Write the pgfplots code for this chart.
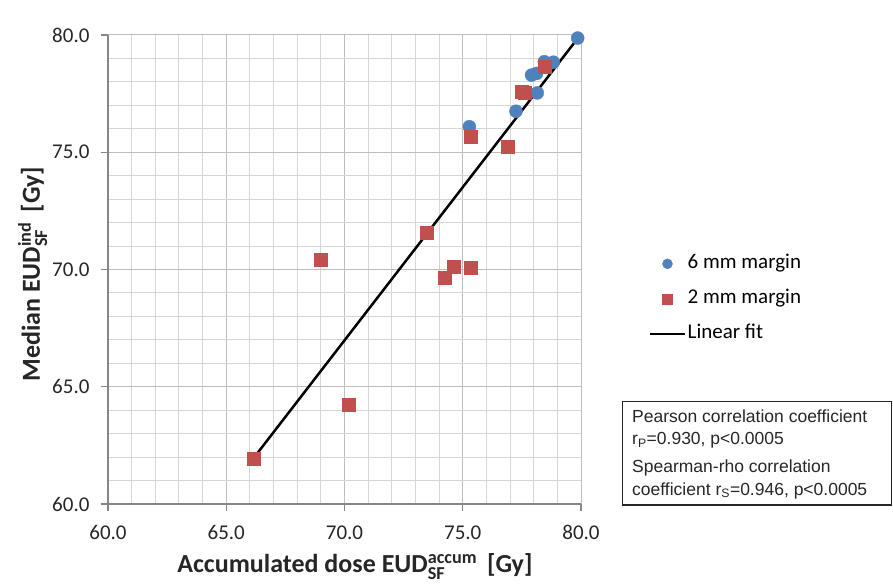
\documentclass[border=0pt]{standalone}
\usepackage{fontspec}
\setmainfont{Carlito}
\newfontfamily\arialfont{Liberation Sans}
\usepackage{amsmath}
\usepackage{pgfplots}
\pgfplotsset{compat=1.18}
\definecolor{sixblue}{HTML}{4F81BD}
\definecolor{twored}{HTML}{C0504D}
\definecolor{gridminor}{HTML}{D6D6D6}
\definecolor{gridmajor}{HTML}{BDBDBD}
\definecolor{axisgray}{HTML}{868686}
\begin{document}
\begin{tikzpicture}
\useasboundingbox (-108pt,-79pt) rectangle (785pt,504pt);
\begin{axis}[
  scale only axis, width=473pt, height=469pt,
  xmin=60, xmax=80, ymin=60, ymax=80,
  xtick={60,65,...,80}, ytick={60,65,...,80},
  minor tick num=4,
  grid=both,
  major grid style={gridmajor, line width=1pt},
  minor grid style={gridminor, line width=0.9pt},
  axis lines=left, axis line style={-, axisgray, line width=1.3pt},
  tick align=outside, major tick length=7pt, minor tick length=0pt,
  major tick style={axisgray, line width=1.3pt},
  ticklabel style={font=\fontsize{21}{25}\selectfont, text=black!85},
  xticklabel style={yshift=-11pt},
  yticklabel style={xshift=-8pt},
  /pgf/number format/fixed,
  /pgf/number format/fixed zerofill,
  /pgf/number format/precision=1,
  /pgf/number format/assume math mode=true,
  xlabel={\textbf{Accumulated dose EUD$^{\text{accum}}_{\text{SF}}$\hspace{10pt}[Gy]}},
  ylabel={\textbf{Median EUD$^{\text{ind}}_{\text{SF}}$\hspace{10pt}[Gy]}},
  xlabel style={at={(axis description cs:0.522,-0.1455)}, anchor=base, font=\fontsize{26}{30}\selectfont, text=black!85},
  ylabel style={at={(axis description cs:-0.1438,0.49)}, anchor=base, rotate=0, font=\fontsize{26}{30}\selectfont, text=black!85},
  legend style={at={(axis description cs:1.1438,0.537)}, anchor=north west, draw=none, fill=none,
    font=\fontsize{21}{25}\selectfont, row sep=12pt, inner sep=0pt,
    nodes={inner sep=2pt, text height=14pt, text depth=5pt}},
  legend cell align=left,
]
\addplot[only marks, mark=*, mark size=6.5pt, mark options={draw=sixblue, fill=sixblue},
  legend image code/.code={\draw[mark size=5pt, mark repeat=2, mark phase=2] plot coordinates {(0pt,0pt) (17.5pt,0pt) (35pt,0pt)};}]
  coordinates {
  (75.28,76.09) (77.25,76.75) (78.15,77.53) (77.91,78.29)
  (78.12,78.36) (78.45,78.86) (78.83,78.84) (79.86,79.87)
  };
\addlegendentry{6 mm margin}
\addplot[only marks, mark=square*, mark size=6.5pt, mark options={draw=twored, fill=twored},
  legend image code/.code={\draw[mark size=5pt, mark repeat=2, mark phase=2] plot coordinates {(0pt,0pt) (17.5pt,0pt) (35pt,0pt)};}]
  coordinates {
  (66.15,61.92) (70.19,64.22) (69.00,70.43) (73.47,71.59)
  (74.22,69.67) (74.60,70.12) (75.34,70.08) (75.35,75.65)
  (76.90,75.25) (77.49,77.58) (77.63,77.52) (78.48,78.66)
  };
\addlegendentry{2 mm margin}
\addplot[black, line width=2.5pt,
  legend image code/.code={\draw[line width=1.5pt] (0pt,0pt) -- (35pt,0pt);}]
  coordinates {(66.15,61.95) (79.87,79.87)};
\addlegendentry{Linear fit}
\end{axis}
\draw[black!85, line width=1.3pt] (514.5pt,-1pt) rectangle (783.5pt,102.5pt);
\begin{scope}[every node/.style={anchor=base west, inner sep=0pt, font=\arialfont\fontsize{17.5}{20}\selectfont, text=black!85}]
\node at (524pt,81pt) {Pearson correlation coefficient};
\node at (524pt,59pt) {r\textsubscript{P}=0.930, p<0.0005};
\node at (524pt,31pt) {Spearman-rho correlation};
\node at (524pt,9pt) {coefficient r\textsubscript{S}=0.946, p<0.0005};
\end{scope}
\end{tikzpicture}
\end{document}
